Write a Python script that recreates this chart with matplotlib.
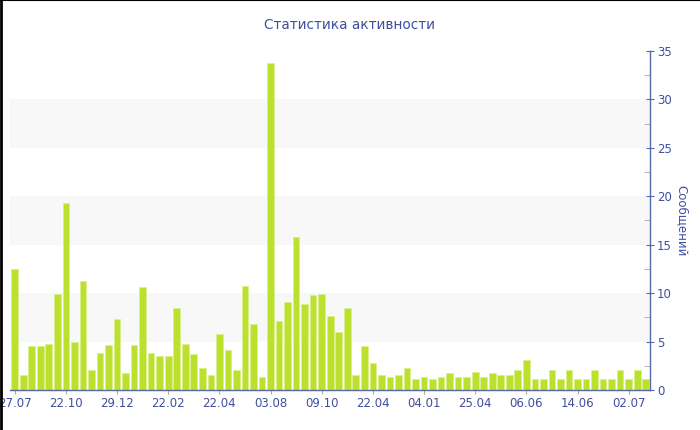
import matplotlib
matplotlib.use("Agg")
import matplotlib.pyplot as plt
from matplotlib.lines import Line2D
from matplotlib.ticker import MultipleLocator
import numpy as np

# messages per period
counts = [
    12.5, 1.5, 4.5, 4.5, 4.8, 9.9, 19.3, 5.0, 11.3, 2.1,
    3.8, 4.6, 7.3, 1.8, 4.6, 10.6, 3.8, 3.5, 3.5, 8.5,
    4.8, 3.7, 2.3, 1.6, 5.8, 4.1, 2.1, 10.7, 6.8, 1.3,
    33.8, 7.1, 9.1, 15.8, 8.9, 9.8, 9.9, 7.6, 6.0, 8.5,
    1.5, 4.5, 2.8, 1.6, 1.3, 1.5, 2.3, 1.1, 1.3, 1.1,
    1.3, 1.8, 1.3, 1.3, 1.9, 1.3, 1.8, 1.6, 1.5, 2.1,
    3.1, 1.1, 1.1, 2.1, 1.1, 2.1, 1.1, 1.1, 2.1, 1.1,
    1.1, 2.1, 1.1, 2.1, 1.1,
]
tick_pos = [0, 6, 12, 18, 24, 30, 36, 42, 48, 54, 60, 66, 72]
tick_labels = ["27.07", "22.10", "29.12", "22.02", "22.04", "03.08", "09.10",
               "22.04", "04.01", "25.04", "06.06", "14.06", "02.07"]
bands = [(5, 10), (15, 20), (25, 30)]

blue = "#3f4f9d"
axis_blue = "#5569a9"

fig = plt.figure(figsize=(7, 4.3), dpi=100)
ax = fig.add_axes([10/700, 1 - 390/430, 640/700, 339/430])

for lo, hi in bands:
    ax.axhspan(lo, hi, color="#f8f8f8", zorder=0, lw=0)

x = np.arange(len(counts))
ax.bar(x, counts, width=0.78, color="#bce02e", edgecolor="#dcef8c",
       linewidth=0.6, zorder=2)

ax.set_xlim(-0.55, len(counts) - 0.5)
ax.set_ylim(0, 35)

ax.yaxis.tick_right()
ax.yaxis.set_label_position("right")
ax.yaxis.set_major_locator(MultipleLocator(5))
ax.yaxis.set_minor_locator(MultipleLocator(2.5))
ax.tick_params(axis="y", which="major", direction="inout", length=6,
               color=axis_blue, labelcolor=blue, labelsize=8.5, pad=2)
ax.tick_params(axis="y", which="minor", direction="in", length=4,
               color="#aaaaaa")
ax.set_ylabel("Сообщений", color=blue, fontsize=8.5, rotation=270,
              labelpad=12)

ax.set_xticks(tick_pos)
ax.set_xticklabels(tick_labels)
ax.tick_params(axis="x", direction="out", length=3, color="#aaaaaa",
               labelcolor=blue, labelsize=8.5, pad=2)

for side in ["left", "top"]:
    ax.spines[side].set_visible(False)
for side in ["bottom", "right"]:
    ax.spines[side].set_color(axis_blue)
    ax.spines[side].set_linewidth(1)

fig.text(349/700, 1 - 25/430, "Статистика активности", color=blue,
         fontsize=9.8, ha="center", va="center")

# frame of the picture: dark on top and left
fig.add_artist(Line2D([0, 1], [0.999, 0.999], color="black", lw=1.5,
                      transform=fig.transFigure))
fig.add_artist(Line2D([0.001, 0.001], [0, 1], color="black", lw=2,
                      transform=fig.transFigure))

fig.savefig("out.png", dpi=100)
